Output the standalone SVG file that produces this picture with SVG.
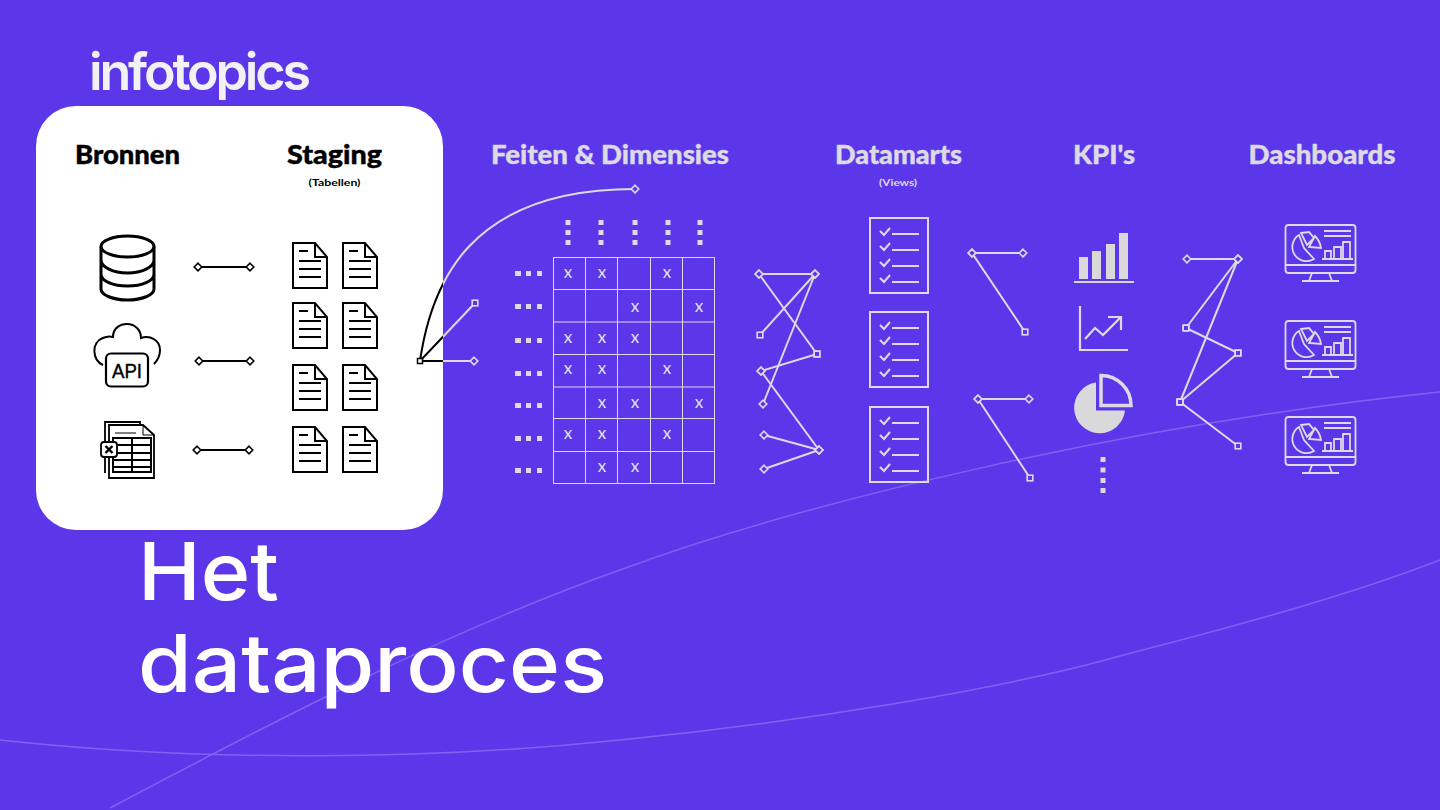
<svg xmlns="http://www.w3.org/2000/svg" width="1440" height="810" viewBox="0 0 1440 810">
<style>
.h{font-family:"Lato","Liberation Sans",sans-serif;font-weight:900;font-size:26px;text-anchor:middle;stroke-width:.4px}
.lt{fill:#dcdae6;stroke:#dcdae6}
.dk{fill:#000;stroke:#000}
.sub{font-family:"Lato","Liberation Sans",sans-serif;font-weight:700;font-size:10px;text-anchor:middle;stroke:none}
.x{font-family:"Lato","Liberation Sans",sans-serif;font-size:17px;fill:#e2e0ea;text-anchor:middle}
.dd,.ds,.sd,.ss{fill:none;stroke:#dcdae6;stroke-width:2}
.dd{marker-start:url(#dl);marker-end:url(#dl)}
.ds{marker-start:url(#dl);marker-end:url(#sl)}
.sd{marker-start:url(#sl);marker-end:url(#dl)}
.ss{marker-start:url(#sl);marker-end:url(#sl)}
.b{fill:none;stroke:#000;stroke-width:2;marker-start:url(#db);marker-end:url(#db)}
.g{stroke:#dcdae6;stroke-width:1;fill:none}
.k{fill:none;stroke:#000;stroke-width:2}
.w{fill:none;stroke:#7d63f0;stroke-width:1.5}
.dot{fill:#dcdae6}
.kp{fill:#d9d9dc}
</style>
<defs>
<marker id="dl" viewBox="-5 -5 10 10" markerWidth="10" markerHeight="10" markerUnits="userSpaceOnUse"><path d="M0-3.800 3.800 0 0 3.800-3.800 0Z" fill="#5c37ea" stroke="#dcdae6" stroke-width="1.600"/></marker>
<marker id="db" viewBox="-5 -5 10 10" markerWidth="10" markerHeight="10" markerUnits="userSpaceOnUse"><path d="M0-3.800 3.800 0 0 3.800-3.800 0Z" fill="#fff" stroke="#000" stroke-width="1.600"/></marker>
<marker id="sl" viewBox="-5 -5 10 10" markerWidth="10" markerHeight="10" markerUnits="userSpaceOnUse"><rect x="-2.800" y="-2.800" width="5.600" height="5.600" fill="#5c37ea" stroke="#dcdae6" stroke-width="1.600"/></marker>
<clipPath id="cardClip"><rect x="36" y="106" width="407" height="424" rx="40"/></clipPath>
<clipPath id="outClip"><path d="M443 0H1440V810H443Z"/></clipPath>
<g id="doc"><path class="k" d="M293 243H315L327 257V288H293Z M315 243V257H327"/><path class="k" d="M299 251H308M299 261H321M299 269H321M299 277H321"/></g>
<g id="list" stroke="#dcdae6" fill="none"><rect x="870" y="218" width="58" height="75" stroke-width="2"/><path stroke-width="2" d="M880 231l4 4 6-7M880 246l4 4 6-7M880 262l4 4 6-7M880 278l4 4 6-7M892 234H919M892 250H919M892 266H919M892 282H919"/></g>
<g id="dash" stroke="#dcdae6" fill="none" stroke-width="1.800"><rect x="1285.500" y="225" width="70" height="48" rx="3"/><path d="M1285 265H1356M1312 273L1309 281M1329 273L1332 281M1302 281H1339M1324 231H1351M1324 236H1351M1322 259H1353M1325 259V251H1331V259M1334 259V247H1341V259M1343 259V242H1350V259"/><path d="M1299 235A14 14 0 1 0 1314 259L1304 248Z M1301 233L1309 232L1314 238L1307 245Z M1315 236Q1320 241 1321 248L1309 247Z"/></g>
</defs>

<rect id="background" width="1440" height="810" fill="#5c37ea"/>
<g id="curves">
<path class="w" d="M0 740C200 762 430 760 620 740C800 722 1000 690 1120 656C1240 625 1350 595 1440 560"/>
<path class="w" d="M110 808C280 718 450 630 620 570C800 503 1130 424 1440 392"/>
</g>
<rect id="card" x="36" y="106" width="407" height="424" rx="40" fill="#fff"/>
<text id="logo" x="89" y="90" font-family="Inter,'Liberation Sans',sans-serif" font-size="52" font-weight="600" fill="#f2f1f6" textLength="222" lengthAdjust="spacing">infotopics</text>
<text id="title" font-family="Inter,'Liberation Sans',sans-serif" font-size="80" font-weight="500" fill="#fff"><tspan x="138" y="600" textLength="141" lengthAdjust="spacingAndGlyphs">Het</tspan><tspan x="138" y="692" textLength="469" lengthAdjust="spacingAndGlyphs">dataproces</tspan></text>

<g id="head-bronnen"><text class="h dk" x="127.500" y="164" textLength="105" lengthAdjust="spacingAndGlyphs">Bronnen</text></g>
<g id="head-staging"><text class="h dk" x="334.500" y="164" textLength="95" lengthAdjust="spacingAndGlyphs">Staging</text><text class="sub dk" x="334.500" y="186" textLength="52" lengthAdjust="spacingAndGlyphs">(Tabellen)</text></g>
<g id="head-feiten"><text class="h lt" x="610" y="164" textLength="238" lengthAdjust="spacingAndGlyphs">Feiten &amp; Dimensies</text></g>
<g id="head-datamarts"><text class="h lt" x="898.500" y="164" textLength="127" lengthAdjust="spacingAndGlyphs">Datamarts</text><text class="sub lt" x="898" y="186" textLength="38" lengthAdjust="spacingAndGlyphs">(Views)</text></g>
<g id="head-kpis"><text class="h lt" x="1104" y="164" textLength="62" lengthAdjust="spacingAndGlyphs">KPI's</text></g>
<g id="head-dashboards"><text class="h lt" x="1322" y="164" textLength="147" lengthAdjust="spacingAndGlyphs">Dashboards</text></g>

<g id="database" fill="none" stroke="#000" stroke-width="3"><ellipse cx="127.500" cy="246.500" rx="26.500" ry="10.500"/><path d="M101 246.500V289C101 295 113 300 127.500 300C142 300 154 295 154 289V246.500M101 260C101 267 113 273 127.500 273C142 273 154 267 154 260M101 274C101 281 113 286 127.500 286C142 286 154 281 154 274"/></g>
<g id="api"><path d="M103 365C92 360 91 342 103 338C107 336 110 336 113 337C113 328 120 324 127 324C135 324 141 330 141 338C150 335 160 340 160 350C160 356 157 361 154 364" fill="none" stroke="#000" stroke-width="2"/><rect x="106" y="353.500" width="42" height="33" rx="5" fill="none" stroke="#000" stroke-width="2.200"/><text x="127" y="377.500" font-family="'Liberation Sans',sans-serif" font-size="20" text-anchor="middle" fill="#000" stroke="#000" stroke-width=".4" textLength="30" lengthAdjust="spacingAndGlyphs">API</text></g>
<g id="spreadsheet" fill="none" stroke="#000" stroke-width="1.800"><path d="M105 473V422H140V425"/><path d="M109 442V425H143L154 435V478H109V458"/><path stroke-width="1" d="M115 433H136M143 425V435H154"/><path stroke-width="2" d="M113 438H151V472H113ZM132 438V472M113 445H151M113 453H151M113 460H151M113 467H151"/><rect x="101" y="442" width="16" height="15" rx="3" fill="#fff" stroke-width="1.800"/><path stroke-width="2.400" d="M105.500 446l7 7M112.500 446l-7 7"/></g>

<g id="staging-docs">
<use href="#doc"/><use href="#doc" x="50"/>
<use href="#doc" y="60"/><use href="#doc" x="50" y="60"/>
<use href="#doc" y="122"/><use href="#doc" x="50" y="122"/>
<use href="#doc" y="184"/><use href="#doc" x="50" y="184"/>
</g>

<g id="matrix">
<path class="g" d="M553 257.500H715M553 289.500H715M553 322H715M553 354.500H715M553 387H715M553 418.500H715M553 451.500H715M553 483.500H715M553.500 257V484M585.500 257V484M617.500 257V484M650.500 257V484M682.500 257V484M714.500 257V484"/>
<g>
<text class="x" x="568" y="278">x</text><text class="x" x="602" y="278">x</text><text class="x" x="667" y="278">x</text>
<text class="x" x="635" y="312">x</text><text class="x" x="699" y="312">x</text>
<text class="x" x="568" y="343">x</text><text class="x" x="602" y="343">x</text><text class="x" x="635" y="343">x</text>
<text class="x" x="568" y="374">x</text><text class="x" x="602" y="374">x</text><text class="x" x="667" y="374">x</text>
<text class="x" x="602" y="408">x</text><text class="x" x="635" y="408">x</text><text class="x" x="699" y="408">x</text>
<text class="x" x="568" y="439">x</text><text class="x" x="602" y="439">x</text><text class="x" x="667" y="439">x</text>
<text class="x" x="602" y="472">x</text><text class="x" x="635" y="472">x</text>
</g>
<path class="dot" d="M565.500 220h5v5h-5zM565.500 230h5v5h-5zM565.500 240h5v5h-5zM598.500 220h5v5h-5zM598.500 230h5v5h-5zM598.500 240h5v5h-5zM632.500 220h5v5h-5zM632.500 230h5v5h-5zM632.500 240h5v5h-5zM665.500 220h5v5h-5zM665.500 230h5v5h-5zM665.500 240h5v5h-5zM697.500 220h5v5h-5zM697.500 230h5v5h-5zM697.500 240h5v5h-5z"/>
<g id="rowdots"><path class="dot" d="M515 271h6v5h-6zM526 271h5v5h-5zM537 271h5v5h-5z"/><path class="dot" d="M515 304h6v5h-6zM526 304h5v5h-5zM537 304h5v5h-5z"/><path class="dot" d="M515 338h6v5h-6zM526 338h5v5h-5zM537 338h5v5h-5z"/><path class="dot" d="M515 371h6v5h-6zM526 371h5v5h-5zM537 371h5v5h-5z"/><path class="dot" d="M515 403h6v5h-6zM526 403h5v5h-5zM537 403h5v5h-5z"/><path class="dot" d="M515 436h6v5h-6zM526 436h5v5h-5zM537 436h5v5h-5z"/><path class="dot" d="M515 468h6v5h-6zM526 468h5v5h-5zM537 468h5v5h-5z"/></g>
</g>

<g id="datamarts"><use href="#list"/><use href="#list" y="94"/><use href="#list" y="189"/></g>

<g id="kpi-bars" class="kp"><rect x="1079" y="257" width="9" height="22"/><rect x="1092" y="251" width="9" height="28"/><rect x="1106" y="244" width="9" height="35"/><rect x="1119" y="233" width="9" height="46"/><rect x="1074" y="281" width="60" height="2"/></g>
<g id="kpi-line" fill="none" stroke="#dcdae6" stroke-width="2.200"><path d="M1080 306V350H1128"/><path d="M1085 339L1095 328L1103 335L1120 318M1108 317H1121V330"/></g>
<g id="kpi-pie"><path class="kp" d="M1096 382.500V410.500H1125A25.500 25.500 0 1 1 1096 382.500Z"/><path d="M1101 375.500V405.500H1131A30 30 0 0 0 1101 375.500Z" fill="none" stroke="#dcdae6" stroke-width="3.500"/></g>
<path id="kpi-dots" class="kp" d="M1100.500 457h5v5h-5zM1100.500 467.500h5v5h-5zM1100.500 478h5v5h-5zM1100.500 488h5v5h-5z"/>

<g id="dashboards"><use href="#dash"/><use href="#dash" y="96"/><use href="#dash" y="192"/></g>

<g id="connectors">
<path class="b" d="M198 267H250"/>
<path class="b" d="M199 361H250"/>
<path class="b" d="M197 450H249"/>
<g clip-path="url(#cardClip)" fill="none" stroke="#000" stroke-width="2"><path d="M420 361C431 285 468 189 635 189M420 361L475 303M420 361H474"/></g>
<g clip-path="url(#outClip)" fill="none" stroke="#dcdae6" stroke-width="2"><path d="M420 361C431 285 468 189 635 189M420 361L475 303M420 361H474"/></g>
<rect x="417.500" y="358.500" width="5" height="5" fill="#fff" stroke="#000" stroke-width="1.500"/>
<path d="M635 185.200l3.800 3.800-3.800 3.800-3.800-3.800Z M474 357.200l3.800 3.800-3.800 3.800-3.800-3.800Z" fill="#5c37ea" stroke="#dcdae6" stroke-width="1.600"/>
<rect x="472.200" y="300.200" width="5.600" height="5.600" fill="#5c37ea" stroke="#dcdae6" stroke-width="1.600"/>
<path class="dd" d="M759 274H815"/>
<path class="ds" d="M815 274L760 335"/>
<path class="dd" d="M815 274L763 404"/>
<path class="ds" d="M759 274L817 354"/>
<path class="sd" d="M817 354L761 371"/>
<path class="dd" d="M761 371L819 450"/>
<path class="dd" d="M764 435L819 450"/>
<path class="dd" d="M819 450L764 469"/>
<path class="dd" d="M972 253H1023"/>
<path class="ds" d="M972 253L1025 332"/>
<path class="dd" d="M978 399H1029"/>
<path class="ds" d="M978 399L1030 478"/>
<path class="dd" d="M1187 259H1238"/>
<path class="ds" d="M1238 259L1186 328"/>
<path class="ds" d="M1238 259L1180 402"/>
<path class="ss" d="M1186 328L1238 353"/>
<path class="ss" d="M1238 353L1180 402"/>
<path class="ss" d="M1180 402L1238 446"/>
</g>
</svg>
